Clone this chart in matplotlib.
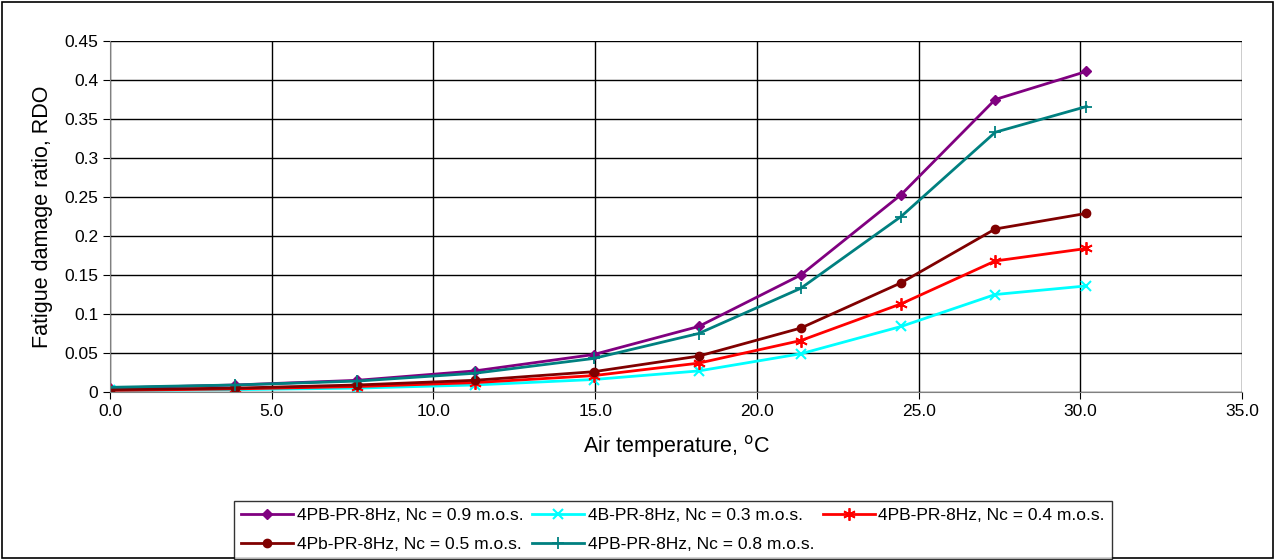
import numpy as np
import matplotlib.pyplot as plt
from matplotlib.patches import Rectangle

plt.rcParams['font.family'] = ['Liberation Sans', 'DejaVu Sans']

temp = [0.0, 3.87, 7.65, 11.27, 14.95, 18.2, 21.36, 24.46, 27.37, 30.19]

rdo_09 = [0.005, 0.009, 0.015, 0.027, 0.048, 0.084, 0.150, 0.253, 0.375, 0.411]
rdo_03 = [0.002, 0.003, 0.005, 0.009, 0.016, 0.027, 0.049, 0.084, 0.125, 0.136]
rdo_04 = [0.002, 0.004, 0.007, 0.012, 0.021, 0.037, 0.066, 0.113, 0.168, 0.184]
rdo_05 = [0.003, 0.005, 0.009, 0.015, 0.026, 0.046, 0.082, 0.140, 0.209, 0.229]
rdo_08 = [0.006, 0.009, 0.014, 0.024, 0.043, 0.075, 0.133, 0.225, 0.333, 0.366]

labels = ["4PB-PR-8Hz, Nc = 0.9 m.o.s.",
          "4B-PR-8Hz, Nc = 0.3 m.o.s.",
          "4PB-PR-8Hz, Nc = 0.4 m.o.s.",
          "4Pb-PR-8Hz, Nc = 0.5 m.o.s.",
          "4PB-PR-8Hz, Nc = 0.8 m.o.s."]

fig = plt.figure(figsize=(12.75, 5.6), dpi=100)
ax = fig.add_axes([110/1275, 1-392/560, (1242-110)/1275, (392-41)/560])

# outer frame around the whole chart
fig.patches.append(Rectangle((2/1275, 2/560), 1-4/1275, 1-4/560, transform=fig.transFigure,
                             fill=False, edgecolor='black', linewidth=1.2))

h09, = ax.plot(temp, rdo_09, color='#800080', marker='D', ms=5, lw=2, label=labels[0])
h03, = ax.plot(temp, rdo_03, color='#00FFFF', marker='x', ms=7, mew=1.5, lw=2, label=labels[1])
h04, = ax.plot(temp, rdo_04, color='#FF0000', marker=(6, 2, 0), ms=9, mew=1.3, lw=2, label=labels[2])
h05, = ax.plot(temp, rdo_05, color='#800000', marker='o', ms=6, lw=2, label=labels[3])
h08, = ax.plot(temp, rdo_08, color='#008080', marker='+', ms=9, mew=1.3, lw=2, label=labels[4])

ax.set_xlim(0, 35)
ax.set_ylim(0, 0.45)
ax.set_xticks(np.arange(0, 36, 5))
ax.set_xticklabels([f"{v:.1f}" for v in np.arange(0, 36, 5)])
yt = np.arange(0, 0.451, 0.05)
ax.set_yticks(yt)
ax.set_yticklabels(["0", "0.05", "0.1", "0.15", "0.2", "0.25", "0.3", "0.35", "0.4", "0.45"])
ax.grid(True, color='black', lw=1)
ax.set_axisbelow(True)
ax.tick_params(labelsize=12.5, direction='out', length=5)
for s in ['top', 'right']:
    ax.spines[s].set_visible(False)
ax.spines['left'].set_color('gray')
ax.spines['bottom'].set_color('gray')

ax.set_xlabel("Air temperature, $^{\\rm o}$C", fontsize=15.5, labelpad=10)
ax.set_ylabel("Fatigue damage ratio, RDO", fontsize=15.5, labelpad=8)

# matplotlib fills legend columns first, so order handles to read row by row
order = [h09, h05, h03, h08, h04]
leg = fig.legend(handles=order, loc='center', bbox_to_anchor=(673/1275, 1-530/560), ncol=3,
                 fontsize=12.5, frameon=True, fancybox=False, edgecolor='black', handlelength=3,
                 columnspacing=0.5, handletextpad=0.2, borderpad=0.4, labelspacing=0.8)
leg.get_frame().set_linewidth(1)

fig.savefig("out.png", dpi=100)
